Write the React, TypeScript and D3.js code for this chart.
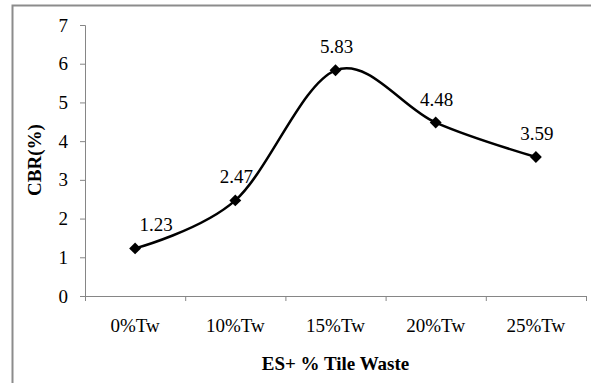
import React, { useEffect, useRef } from 'react';
import * as d3 from 'd3';

const categories = ['0%Tw', '10%Tw', '15%Tw', '20%Tw', '25%Tw'];
const cbrValues = [1.23, 2.47, 5.83, 4.48, 3.59];
const yTicks = [0, 1, 2, 3, 4, 5, 6, 7];

const App = () => {
  const svgRef = useRef<SVGSVGElement>(null);

  useEffect(() => {
    const svg = d3.select(svgRef.current);
    svg.selectAll('*').remove();

    const width = 591;
    const height = 383;
    const margin = { top: 25, right: 5, bottom: 87, left: 85 };
    const font = '"Liberation Serif", "Times New Roman", serif';
    const fontSize = '19px';

    svg.attr('width', width).attr('height', height).style('background', '#fff');

    // frame (only left + top visible, picture is cropped)
    svg.append('path')
      .attr('d', `M12.5,${height} L12.5,5.5 L${width},5.5`)
      .attr('fill', 'none')
      .attr('stroke', '#8c8c8c')
      .attr('stroke-width', 2);

    const x = d3.scaleBand()
      .domain(categories)
      .range([margin.left, width - margin.right])
      .padding(0);

    const y = d3.scaleLinear()
      .domain([0, 7])
      .range([height - margin.bottom, margin.top]);

    // y axis
    const yAxis = svg.append('g')
      .attr('transform', `translate(${margin.left},0)`)
      .call(d3.axisLeft(y).tickValues(yTicks).tickSize(5).tickPadding(12).tickFormat(d3.format('d')));
    yAxis.select('.domain').attr('stroke', '#868686');
    yAxis.selectAll('.tick line').attr('stroke', '#868686');
    yAxis.selectAll('text')
      .style('font-family', font)
      .style('font-size', fontSize)
      .attr('fill', '#000');

    // x axis with ticks at category boundaries
    const xAxisG = svg.append('g')
      .attr('transform', `translate(0,${y(0)})`);
    xAxisG.append('line')
      .attr('x1', margin.left).attr('x2', width - margin.right)
      .attr('y1', 0.5).attr('y2', 0.5)
      .attr('stroke', '#868686');
    const bounds = categories.map(c => x(c) as number).concat([x.range()[1]]);
    xAxisG.selectAll('.xtick')
      .data(bounds)
      .join('line')
      .attr('class', 'xtick')
      .attr('x1', d => d + 0.5).attr('x2', d => d + 0.5)
      .attr('y1', 0).attr('y2', 5)
      .attr('stroke', '#868686');
    xAxisG.selectAll('.xlabel')
      .data(categories)
      .join('text')
      .attr('class', 'xlabel')
      .attr('x', d => (x(d) as number) + x.bandwidth() / 2)
      .attr('y', 36)
      .attr('text-anchor', 'middle')
      .style('font-family', font)
      .style('font-size', fontSize)
      .text(d => d);

    // axis titles
    svg.append('text')
      .attr('x', (margin.left + width - margin.right) / 2)
      .attr('y', 370)
      .attr('text-anchor', 'middle')
      .style('font-family', font)
      .style('font-size', fontSize)
      .style('font-weight', 'bold')
      .text('ES+ % Tile Waste');

    svg.append('text')
      .attr('transform', 'translate(41,160) rotate(-90)')
      .attr('text-anchor', 'middle')
      .style('font-family', font)
      .style('font-size', fontSize)
      .style('font-weight', 'bold')
      .text('CBR(%)');

    const points = categories.map((c, i) => ({ c, v: cbrValues[i] }));
    const cx = (d: { c: string }) => (x(d.c) as number) + x.bandwidth() / 2;

    const line = d3.line<{ c: string; v: number }>()
      .x(cx)
      .y(d => y(d.v))
      .curve(d3.curveCardinal.tension(0));

    svg.append('path')
      .datum(points)
      .attr('d', line)
      .attr('fill', 'none')
      .attr('stroke', '#000')
      .attr('stroke-width', 2.5);

    svg.selectAll('.marker')
      .data(points)
      .join('path')
      .attr('class', 'marker')
      .attr('d', d3.symbol().type(d3.symbolDiamond2).size(90))
      .attr('transform', d => `translate(${cx(d)},${y(d.v)})`)
      .attr('fill', '#000');

    svg.selectAll('.label')
      .data(points)
      .join('text')
      .attr('class', 'label')
      .attr('x', (d, i) => cx(d) + (i === 0 ? 21 : 1))
      .attr('y', d => y(d.v) - 17)
      .attr('text-anchor', 'middle')
      .style('font-family', font)
      .style('font-size', fontSize)
      .text(d => d.v.toFixed(2));
  }, []);

  return (
    <svg ref={svgRef} style={{ position: 'absolute', left: 0, top: 0 }}></svg>
  );
};

export default App;
